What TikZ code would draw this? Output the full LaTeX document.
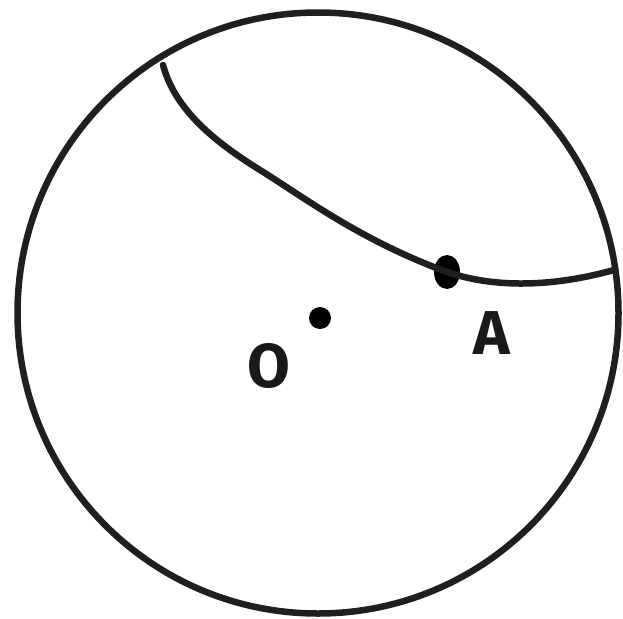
\documentclass[tikz,border=0pt]{standalone}
\usepackage{fontspec}
\setmainfont{Fira Sans}
\usetikzlibrary{shapes.geometric}
\begin{document}
\begin{tikzpicture}[x=1pt,y=-1pt,
  stroke/.style={line width=6.5pt,draw=black!88,line cap=round,line join=round},
  lbl/.style={font=\fontsize{62}{62}\selectfont\bfseries,text=black!90,inner sep=0pt}]
\useasboundingbox (0,0) rectangle (623,618);
\node[circle,draw=black!88,line width=6.5pt,minimum size=601pt,inner sep=0pt] (C) at (318,313) {};
\coordinate (P) at (163,65);
\coordinate (Q) at (614,270);
\node[ellipse,fill=black,minimum width=26pt,minimum height=34pt,inner sep=0pt] (A) at (447,272) {};
\draw[stroke] (P) .. controls (175,110) and (215,142) .. (260,170)
  .. controls (305,198) and (360,240) .. (A.center)
  .. controls (500,290) and (560,285) .. (Q);
\node[circle,fill=black,minimum size=22pt,inner sep=0pt] (O) at (320,318) {};
\node[lbl] (Olbl) at (269,366) {O};
\node[lbl] (Albl) at (492,333) {A};
\end{tikzpicture}
\end{document}
